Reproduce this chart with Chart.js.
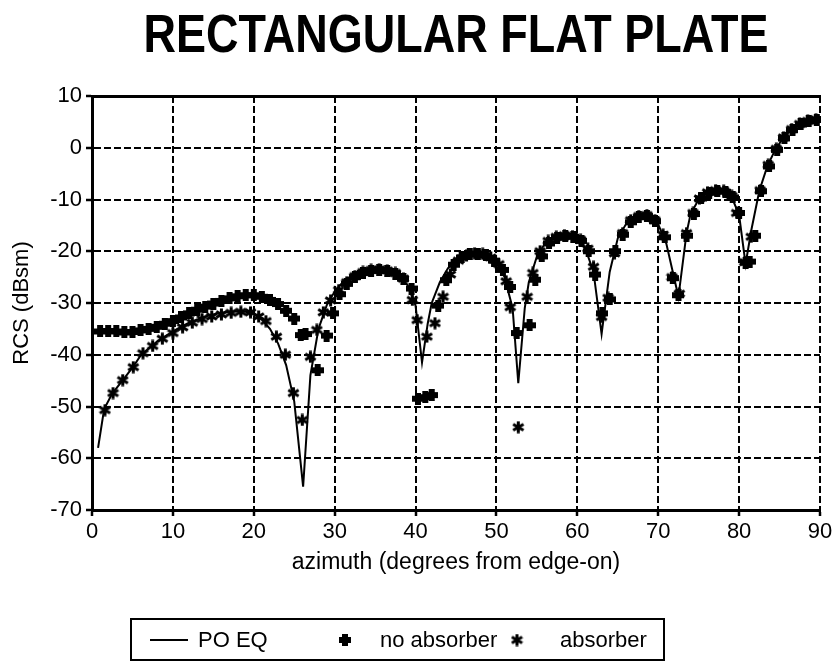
<!DOCTYPE html>
<html>
<head>
<meta charset="utf-8">
<script src="https://cdn.jsdelivr.net/npm/chart.js@4/dist/chart.umd.min.js"></script>
<style>
  body { margin: 0; background: #fff; }
  #wrap { width: 838px; height: 664px; position: relative; }
</style>
</head>
<body>
<div id="wrap"><canvas id="rcsChart"></canvas></div>
<script>
const titleText = "RECTANGULAR FLAT PLATE";
const xTicks = [0, 10, 20, 30, 40, 50, 60, 70, 80, 90];
const yTicks = [-70, -60, -50, -40, -30, -20, -10, 0, 10];

// PO EQ prediction
const poAz = [0.75, 1.5, 2.5, 4, 5, 6, 7, 8, 9, 10, 11, 12, 13, 14, 15, 16, 17, 18, 19, 20,
  21, 22, 23, 24, 25, 26.1, 27, 28, 29, 30, 31, 32, 33, 34, 35, 36, 37, 38, 39, 40, 40.8,
  41.5, 42, 43, 44, 45, 46, 47, 48, 49, 50, 51, 52, 52.7, 53.5, 54, 55, 56, 57, 58, 59, 60,
  61, 62, 63, 64, 65, 66, 67, 68, 69, 70, 71, 72.5, 73.5, 74, 75, 76, 77, 78, 79, 80, 80.8,
  81.5, 82.5, 83.5, 84.5, 85.5, 86.5, 87.5, 88.5, 89.5, 90];
const poRcs = [-58, -50.5, -47.5, -44.5, -42.5, -40.2, -38.8, -37.5, -36.5, -35.5, -34.6, -33.8,
  -33.2, -32.6, -32.2, -31.9, -31.7, -31.6, -31.7, -32.1, -33.2, -35, -37.8, -42, -49, -65.5,
  -44, -35, -30.5, -27.8, -26, -24.8, -24.1, -23.7, -23.5, -23.6, -24, -24.8, -26.5, -30.5,
  -41.5, -34, -30, -26, -23.3, -21.6, -20.7, -20.3, -20.3, -20.8, -22.2, -25, -31, -45.5, -31,
  -26, -21, -18.5, -17.3, -16.8, -16.9, -17.6, -19.5, -24, -36, -24, -17.5, -14.8, -13.4, -13,
  -13.3, -14.8, -18.5, -28.8, -16.5, -12.8, -10, -8.8, -8.3, -8.3, -9.2, -13, -22.5, -16, -8.3,
  -3.5, -0.3, 2, 3.5, 4.6, 5.2, 5.5, 5.5];

// measured, no absorber
const noAbsAz = [1, 2, 3, 4, 5, 6, 7, 8, 9, 10, 11, 12, 13, 14, 15, 16, 17, 18, 19, 20, 21, 22,
  23, 24, 25, 25.8, 26.4, 27.9, 29, 29.8, 30.6, 31.5, 32.5, 33.5, 34.5, 35.5, 36.5, 37.5, 38.5,
  39.5, 40.3, 41.2, 42, 42.8, 43.8, 44.7, 45.7, 46.7, 47.7, 48.7, 49.7, 50.8, 51.7, 52.5, 54.1,
  54.8, 55.6, 56.5, 57.5, 58.5, 59.5, 60.5, 61.4, 62.2, 63.1, 64, 64.7, 65.6, 66.6, 67.6, 68.6,
  69.6, 70.8, 71.8, 72.5, 73.5, 74.4, 75.3, 76.3, 77.3, 78.3, 79.2, 80, 80.8, 81.3, 82, 82.7,
  83.7, 84.7, 85.6, 86.6, 87.6, 88.6, 89.6];
const noAbsRcs = [-35.5, -35.4, -35.5, -35.7, -35.6, -35.3, -35, -34.6, -34, -33.5, -32.8, -32,
  -31.3, -30.7, -30.1, -29.6, -29.1, -28.7, -28.5, -28.5, -28.8, -29.4, -30.2, -31.5, -33,
  -36.2, -36, -43, -36.3, -32, -28.3, -26.3, -25, -24.2, -23.8, -23.6, -23.8, -24.3, -25.3,
  -27.2, -48.5, -48.2, -47.8, -30.5, -25.6, -22.6, -21.2, -20.6, -20.5, -20.8, -21.8, -23.6,
  -26.9, -35.8, -34.3, -25.5, -21, -18.5, -17.4, -17, -17.2, -18, -20, -24.5, -32, -29.3, -20,
  -16.8, -14.4, -13.4, -13.2, -14.2, -17.3, -25.2, -28.5, -17, -12.8, -9.8, -8.7, -8.3, -8.5,
  -9.6, -12.6, -22.2, -22, -17, -8.4, -3.6, -0.4, 1.8, 3.4, 4.5, 5.1, 5.4];

// measured, absorber
const absAz = [1.6, 2.6, 3.8, 5.1, 6.3, 7.5, 8.7, 10, 11.2, 12.4, 13.6, 14.8, 16, 17.2, 18.4,
  19.6, 20.6, 21.5, 22.8, 23.9, 24.9, 26, 27, 27.8, 28.6, 29.5, 30.5, 31.5, 32.5, 33.5, 34.5,
  35.5, 36.5, 37.5, 38.5, 39.6, 40.2, 41.4, 42.4, 43.4, 44.3, 45.3, 46.3, 47.3, 48.3, 49.3,
  50.3, 51.2, 51.7, 52.7, 53.8, 54.5, 55.4, 56.4, 57.4, 58.4, 59.4, 60.4, 61.3, 62, 63, 63.8,
  64.6, 65.6, 66.6, 67.6, 68.6, 69.6, 70.6, 71.7, 72.6, 73.5, 74.3, 75.1, 76.1, 77.1, 78.1,
  79.1, 79.7, 80.7, 81.5, 82.6, 83.6, 84.6, 85.5, 86.5, 87.5, 88.5, 89.5];
const absRcs = [-50.7, -47.4, -44.9, -42.4, -39.7, -38.3, -36.9, -35.8, -34.7, -33.8, -33.1,
  -32.6, -32.2, -31.9, -31.7, -31.8, -32.6, -33.5, -36.5, -40, -47.4, -52.6, -40.4, -35.2,
  -31.8, -29.5, -27.5, -26, -24.8, -24, -23.6, -23.5, -23.7, -24.2, -25.3, -29.4, -33.3, -36.5,
  -33.9, -28.8, -24.5, -21.8, -20.8, -20.4, -20.5, -21.2, -22.5, -25.8, -30.8, -54, -28.8,
  -24.2, -20, -18, -17.2, -16.9, -17.1, -17.8, -19.5, -23, -32.7, -29, -20.4, -16.5, -14,
  -13.2, -13, -14, -16.8, -25, -28.2, -16.5, -12.6, -9.8, -8.6, -8.2, -8.3, -9.3, -12.6, -22.1,
  -17.2, -8.2, -3.3, -0.2, 2, 3.6, 4.6, 5.2, 5.5];

const toPoints = (xs, ys) => xs.map((x, i) => ({ x: x, y: ys[i] }));

// bold plus marker
const makePlus = (size, t) => {
  const c = document.createElement("canvas");
  c.width = size; c.height = size;
  const g = c.getContext("2d");
  g.fillStyle = "#000";
  g.fillRect((size - t) / 2, 0, t, size);
  g.fillRect(0, (size - t) / 2, size, t);
  return c;
};

// six-armed asterisk marker
const makeStar = (size) => {
  const c = document.createElement("canvas");
  c.width = size; c.height = size;
  const g = c.getContext("2d");
  const m = size / 2, r = size / 2 - 0.5;
  g.strokeStyle = "#000";
  g.lineWidth = 3;
  g.beginPath();
  [90, 30, -30].forEach((deg) => {
    const a = deg * Math.PI / 180;
    g.moveTo(m - r * Math.cos(a), m - r * Math.sin(a));
    g.lineTo(m + r * Math.cos(a), m + r * Math.sin(a));
  });
  g.stroke();
  return c;
};

const plusImg = makePlus(12, 6);
const starImg = makeStar(13);

const FONT = "'Liberation Sans', Arial, Helvetica, sans-serif";
Chart.defaults.font.family = FONT;
Chart.defaults.color = "#000";

const titlePlugin = {
  id: "plotTitle",
  afterDraw(chart) {
    const ctx = chart.ctx;
    ctx.save();
    ctx.font = "bold 54px " + FONT;
    const w = ctx.measureText(titleText).width;
    ctx.translate((chart.chartArea.left + chart.chartArea.right) / 2, 52);
    ctx.scale(625 / w, 1);
    ctx.textAlign = "center";
    ctx.textBaseline = "alphabetic";
    ctx.fillStyle = "#000";
    ctx.fillText(titleText, 0, 0);
    ctx.restore();
  },
};

// boxed legend under the x axis title
const legendBox = {
  id: "legendBox",
  afterDraw(chart) {
    const ctx = chart.ctx;
    const ds = chart.data.datasets;
    const cy = 640;
    ctx.save();
    ctx.strokeStyle = "#000";
    ctx.lineWidth = 2;
    ctx.strokeRect(131, 619, 533, 41);
    ctx.beginPath();
    ctx.moveTo(150, cy);
    ctx.lineTo(188, cy);
    ctx.stroke();
    ctx.drawImage(plusImg, 345 - plusImg.width / 2, cy - plusImg.height / 2);
    ctx.drawImage(starImg, 517 - starImg.width / 2, cy - starImg.height / 2);
    ctx.font = "22px " + FONT;
    ctx.fillStyle = "#000";
    ctx.textBaseline = "middle";
    ctx.fillText(ds[0].label, 198, cy + 1);
    ctx.fillText(ds[1].label, 380, cy + 1);
    ctx.fillText(ds[2].label, 560, cy + 1);
    ctx.restore();
  },
};

const makeGraph = () => {
  const chart_ctx = document.getElementById("rcsChart");
  const data = {
    datasets: [
      {
        label: "PO EQ",
        data: toPoints(poAz, poRcs),
        showLine: true,
        borderColor: "#000",
        borderWidth: 2,
        pointRadius: 0,
        tension: 0,
      },
      {
        label: "no absorber",
        data: toPoints(noAbsAz, noAbsRcs),
        pointStyle: plusImg,
        pointRadius: 6,
      },
      {
        label: "absorber",
        data: toPoints(absAz, absRcs),
        pointStyle: starImg,
        pointRadius: 6,
      },
    ],
  };
  const config = {
    type: "scatter",
    data,
    options: {
      responsive: true,
      maintainAspectRatio: false,
      animation: false,
      layout: { padding: { left: 0, right: 18, top: 96, bottom: 88 } },
      plugins: {
        legend: { display: false },
        tooltip: { enabled: false },
        title: { display: false },
      },
      scales: {
        x: {
          type: "linear",
          min: 0,
          max: 90,
          afterBuildTicks: (s) => { s.ticks = xTicks.map((v) => ({ value: v })); },
          afterFit: (s) => { s.height = 66; },
          ticks: { font: { size: 22 }, padding: 3, maxRotation: 0 },
          grid: { color: "#000", lineWidth: 2, tickLength: 6, tickWidth: 2.5 },
          border: { display: true, color: "#000", width: 3, dash: [7, 3] },
          title: {
            display: true,
            text: "azimuth (degrees from edge-on)",
            font: { size: 23 },
            padding: { top: 0, bottom: 0 },
          },
        },
        xTop: {
          type: "linear",
          position: "top",
          min: 0,
          max: 90,
          afterFit: (s) => { s.height = 0; },
          ticks: { display: false },
          grid: { display: false, drawTicks: false },
          border: { display: true, color: "#000", width: 3 },
        },
        y: {
          min: -70,
          max: 10,
          afterBuildTicks: (s) => { s.ticks = yTicks.map((v) => ({ value: v })); },
          afterFit: (s) => { s.width = 92; },
          ticks: { font: { size: 22 }, padding: 4 },
          grid: { color: "#000", lineWidth: 2, tickLength: 6, tickWidth: 2.5 },
          border: { display: true, color: "#000", width: 3, dash: [7, 3] },
          title: {
            display: true,
            text: "RCS (dBsm)",
            font: { size: 22 },
            padding: { top: 9, bottom: 0 },
          },
        },
      },
    },
    plugins: [titlePlugin, legendBox],
  };
  return new Chart(chart_ctx, config);
};

makeGraph();
</script>
</body>
</html>
